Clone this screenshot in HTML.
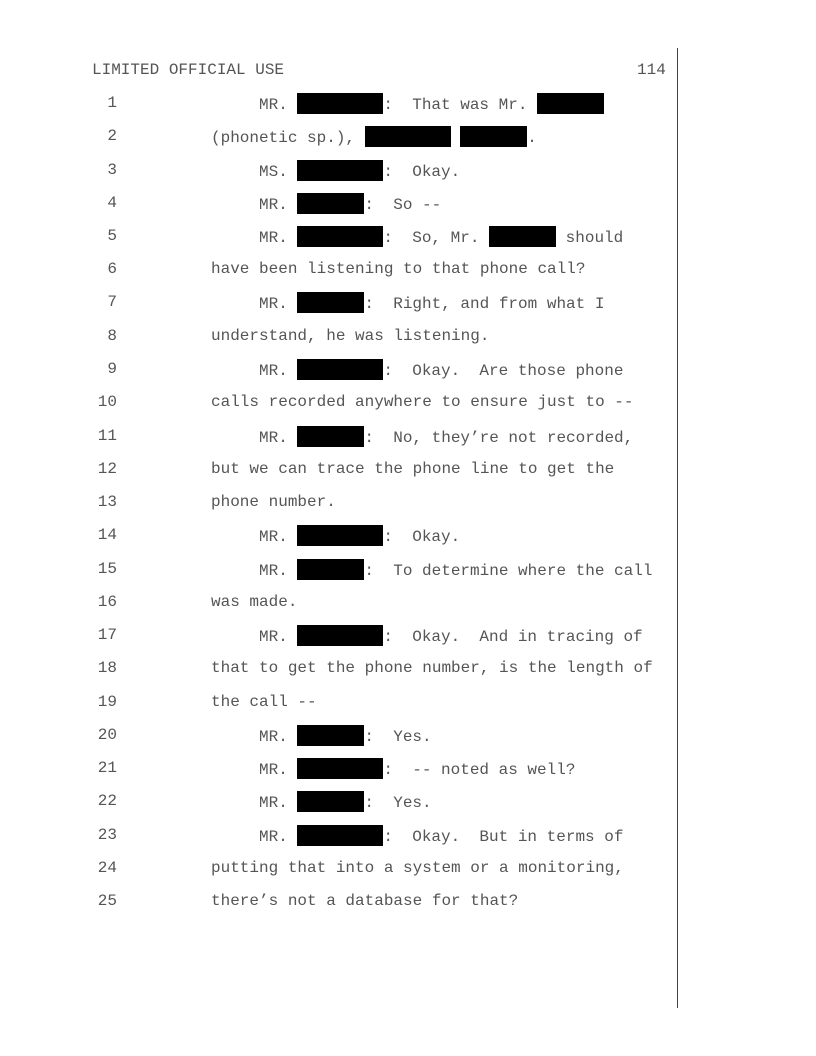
<!DOCTYPE html>
<html><head><meta charset="utf-8"><style>
html,body{margin:0;padding:0;background:#fff;}
body{width:816px;height:1056px;position:relative;overflow:hidden;font-family:"Liberation Mono","Courier New",monospace;font-size:16px;color:#555;}
.l{position:absolute;line-height:20px;height:20px;white-space:pre;}
.n{position:absolute;left:60px;width:57px;text-align:right;line-height:20px;white-space:pre;}
.r{display:inline-block;background:#000;height:21px;vertical-align:-5px;}
.r7{width:67px;}.r9{width:86px;}
#vl{position:absolute;left:677px;top:48px;width:1px;height:960px;background:#444;}
</style></head><body>
<div class="l" style="left:92px;top:60px;">LIMITED OFFICIAL USE</div>
<div class="l" style="left:637px;top:60px;">114</div>
<div id="vl"></div>

<div class="n" style="top:93px">1</div><div class="l" style="left:259px;top:93px">MR. <span class="r r9"></span>:  That was Mr. <span class="r r7"></span></div>
<div class="n" style="top:126px">2</div><div class="l" style="left:211px;top:126px">(phonetic sp.), <span class="r r9"></span> <span class="r r7"></span>.</div>
<div class="n" style="top:160px">3</div><div class="l" style="left:259px;top:160px">MS. <span class="r r9"></span>:  Okay.</div>
<div class="n" style="top:193px">4</div><div class="l" style="left:259px;top:193px">MR. <span class="r r7"></span>:  So --</div>
<div class="n" style="top:226px">5</div><div class="l" style="left:259px;top:226px">MR. <span class="r r9"></span>:  So, Mr. <span class="r r7"></span> should</div>
<div class="n" style="top:259px">6</div><div class="l" style="left:211px;top:259px">have been listening to that phone call?</div>
<div class="n" style="top:292px">7</div><div class="l" style="left:259px;top:292px">MR. <span class="r r7"></span>:  Right, and from what I</div>
<div class="n" style="top:326px">8</div><div class="l" style="left:211px;top:326px">understand, he was listening.</div>
<div class="n" style="top:359px">9</div><div class="l" style="left:259px;top:359px">MR. <span class="r r9"></span>:  Okay.  Are those phone</div>
<div class="n" style="top:392px">10</div><div class="l" style="left:211px;top:392px">calls recorded anywhere to ensure just to --</div>
<div class="n" style="top:426px">11</div><div class="l" style="left:259px;top:426px">MR. <span class="r r7"></span>:  No, they’re not recorded,</div>
<div class="n" style="top:459px">12</div><div class="l" style="left:211px;top:459px">but we can trace the phone line to get the</div>
<div class="n" style="top:492px">13</div><div class="l" style="left:211px;top:492px">phone number.</div>
<div class="n" style="top:525px">14</div><div class="l" style="left:259px;top:525px">MR. <span class="r r9"></span>:  Okay.</div>
<div class="n" style="top:559px">15</div><div class="l" style="left:259px;top:559px">MR. <span class="r r7"></span>:  To determine where the call</div>
<div class="n" style="top:592px">16</div><div class="l" style="left:211px;top:592px">was made.</div>
<div class="n" style="top:625px">17</div><div class="l" style="left:259px;top:625px">MR. <span class="r r9"></span>:  Okay.  And in tracing of</div>
<div class="n" style="top:658px">18</div><div class="l" style="left:211px;top:658px">that to get the phone number, is the length of</div>
<div class="n" style="top:692px">19</div><div class="l" style="left:211px;top:692px">the call --</div>
<div class="n" style="top:725px">20</div><div class="l" style="left:259px;top:725px">MR. <span class="r r7"></span>:  Yes.</div>
<div class="n" style="top:758px">21</div><div class="l" style="left:259px;top:758px">MR. <span class="r r9"></span>:  -- noted as well?</div>
<div class="n" style="top:791px">22</div><div class="l" style="left:259px;top:791px">MR. <span class="r r7"></span>:  Yes.</div>
<div class="n" style="top:825px">23</div><div class="l" style="left:259px;top:825px">MR. <span class="r r9"></span>:  Okay.  But in terms of</div>
<div class="n" style="top:858px">24</div><div class="l" style="left:211px;top:858px">putting that into a system or a monitoring,</div>
<div class="n" style="top:891px">25</div><div class="l" style="left:211px;top:891px">there’s not a database for that?</div>
</body></html>
